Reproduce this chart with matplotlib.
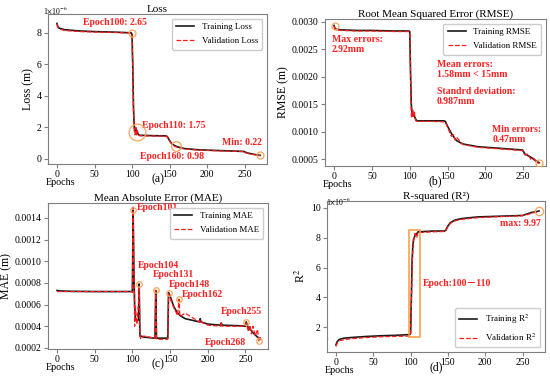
"""Training curves for the four regression metrics (Loss, RMSE, MAE, R2)."""

import matplotlib.pyplot as plt

plt.rcParams["font.family"] = ["Liberation Serif", "DejaVu Serif"]
plt.rcParams["mathtext.fontset"] = "stix"

# ---- data ----
loss_epochs = [0, 1, 3, 10, 30, 50, 80, 99, 100, 101, 102, 103, 104, 105, 106, 107, 108, 110,
               130, 145, 147, 150, 153, 156, 160, 170, 190, 220, 249, 252, 256, 262, 268, 271]
loss_train = [8.6, 8.4, 8.3, 8.2, 8.12, 8.08, 8.04, 8.0, 7.9, 6.0, 3.2, 2.0, 1.7, 1.9, 1.6, 1.75, 1.55, 1.48,
              1.45, 1.44, 1.4, 1.15, 0.95, 0.85, 0.75, 0.63, 0.55, 0.5, 0.45, 0.38, 0.33, 0.27, 0.22, 0.2]
loss_val = [8.55, 8.35, 8.25, 8.15, 8.08, 8.05, 8.02, 7.98, 7.85, 5.8, 3.0, 1.8, 1.5, 2.0, 1.5, 1.8, 1.5, 1.45,
            1.43, 1.42, 1.38, 1.12, 0.92, 0.8, 0.72, 0.6, 0.53, 0.48, 0.44, 0.36, 0.3, 0.25, 0.2, 0.18]

rmse_epochs = [0, 1, 3, 10, 30, 50, 80, 99, 100, 101, 102, 103, 104, 105, 106, 107, 108, 110,
               130, 145, 147, 150, 155, 158, 160, 162, 170, 190, 220, 249, 252, 256, 260, 264, 268, 271]
rmse_train = [0.00293, 0.00288, 0.00286, 0.00285, 0.00284, 0.00284, 0.00283, 0.00283, 0.00282, 0.0021,
              0.0015, 0.00135, 0.00130, 0.00133, 0.00128, 0.00126, 0.00122, 0.0012,
              0.0012, 0.0012, 0.00119, 0.00110, 0.00097, 0.00091, 0.00087, 0.00084, 0.00078, 0.00073,
              0.0007, 0.00067, 0.0006, 0.00057, 0.00054, 0.0005, 0.00046, 0.00044]
rmse_val = [0.00292, 0.00287, 0.00285, 0.00284, 0.00283, 0.00283, 0.00282, 0.00282, 0.0028, 0.002,
            0.0013, 0.00125, 0.0014, 0.00128, 0.00138, 0.00125, 0.0012, 0.00119,
            0.00119, 0.00118, 0.00118, 0.00108, 0.00092, 0.00095, 0.00085, 0.0009, 0.00077, 0.00072,
            0.00069, 0.00066, 0.00058, 0.0006, 0.0005, 0.00052, 0.00044, 0.00043]

mae_epochs = [0, 5, 20, 50, 80, 99, 100, 101, 102, 103, 104, 106, 108, 109, 110, 111, 115, 130, 131, 132,
              147, 148, 150, 155, 160, 162, 163, 170, 189, 190, 191, 200, 217, 218, 219, 240, 250, 251,
              254, 256, 258, 260, 263, 266, 268, 270]
mae_train = [0.00073, 0.000725, 0.000722, 0.00072, 0.00072, 0.00072, 0.00072, 0.00147, 0.0009, 0.0006,
             0.00046, 0.00045, 0.00046, 0.00079, 0.00031, 0.00031, 0.0003, 0.00029, 0.00073, 0.00029,
             0.00029, 0.00071, 0.00068, 0.00058, 0.00052, 0.00051, 0.0005, 0.00047, 0.00044, 0.00047,
             0.00044, 0.00042, 0.00041, 0.00043, 0.00041, 0.000405, 0.0004, 0.00044, 0.00038, 0.00037,
             0.00036, 0.00034, 0.00032, 0.0003, 0.00029, 0.00028]
mae_val = [0.00072, 0.00072, 0.00072, 0.00072, 0.00072, 0.00072, 0.00071, 0.0015, 0.00095, 0.0004,
           0.00058, 0.00042, 0.0006, 0.00077, 0.00032, 0.00028, 0.00031, 0.00029, 0.00073, 0.00028,
           0.00028, 0.0007, 0.00066, 0.00057, 0.0005, 0.00065, 0.00049, 0.00052, 0.00044, 0.00046,
           0.00044, 0.00041, 0.0004, 0.00044, 0.0004, 0.0004, 0.0004, 0.00043, 0.00035, 0.00041,
           0.00033, 0.0004, 0.00031, 0.00037, 0.00026, 0.0003]

r2_epochs = [0, 1, 2, 4, 6, 10, 20, 40, 60, 80, 99, 100, 101, 102, 103, 104, 106, 108, 110,
             130, 145, 147, 150, 153, 156, 160, 170, 190, 220, 250, 253, 256, 262, 268, 272]
r2_train = [0.8, 0.95, 1.05, 1.15, 1.2, 1.25, 1.3, 1.37, 1.42, 1.45, 1.5, 1.6, 4.0, 6.5, 7.5, 7.9, 8.15,
            8.25, 8.4, 8.45, 8.45, 8.5, 8.8, 9.0, 9.1, 9.2, 9.3, 9.4, 9.45, 9.5, 9.55, 9.6, 9.7, 9.75, 9.8]
r2_val = [0.7, 0.85, 0.95, 1.05, 1.1, 1.15, 1.22, 1.3, 1.35, 1.38, 1.4, 1.5, 3.5, 6.0, 7.2, 7.8, 8.3,
          8.0, 8.35, 8.4, 8.42, 8.45, 8.75, 8.95, 9.05, 9.15, 9.25, 9.35, 9.42, 9.48, 9.6, 9.55, 9.65, 9.72, 9.78]

# annotation points: (epoch, value, ring size)
loss_marks = [(100, 8.0, 5), (106, 1.7, 12), (158, 0.8, 7), (271, 0.2, 5)]
rmse_marks = [(1, 0.00293, 5), (271, 0.00044, 5)]
mae_marks = [(101, 0.00147, 4), (109, 0.00079, 4), (131, 0.00073, 4), (148, 0.00071, 4),
             (162, 0.00065, 4), (251, 0.00044, 4), (268, 0.00026, 4)]
mae_labels = ["Epoch101", "Epoch104", "Epoch131", "Epoch148", "Epoch162", "Epoch255", "Epoch268"]
mae_label_pos = [(106, 0.001494), (107, 0.000958), (127, 0.000875), (148, 0.000783),
                 (166, 0.00069), (217, 0.000533), (196, 0.000246)]
r2_marks = [(272, 9.8, 6)]

TRAIN = "#1a1a1a"
VAL = "#ff1a1a"
RING = "#f5a55a"
NOTE = "#ff2020"
FRAME = "#7f7f7f"
W, H = 550, 379


def style(ax, title, ylabel, panel, title_pad=1):
    ax.set_title(title, fontsize=8, pad=title_pad)
    ax.set_ylabel(ylabel, fontsize=8.5, labelpad=2)
    ax.set_xlabel(panel, fontsize=8.5, labelpad=-4)
    ax.set_xlim(-12, 280)
    ax.set_xticks([0, 50, 100, 150, 200, 250])
    ax.tick_params(labelsize=7, length=3, color=FRAME, pad=1.5)
    for s in ax.spines.values():
        s.set_color(FRAME)
    ax.text(-0.012, -0.095, "Epochs", transform=ax.transAxes, fontsize=7.3, ha="left", va="top")


def rings(ax, pts):
    for x, y, size in pts:
        ax.plot([x], [y], "o", ms=size, mfc="none", mec=RING, mew=0.9, zorder=5)


def note(ax, x, y, s, **kw):
    ax.text(x, y, s, color=NOTE, fontsize=7, fontweight="bold", va="center", linespacing=1.15, **kw)


def legend(ax, loc):
    ax.legend(loc=loc, fontsize=6.5, frameon=True, edgecolor="#cccccc", framealpha=1,
              borderpad=0.5, handlelength=2.0, labelspacing=0.6)


def add_axes(l, t, r, b):
    return fig.add_axes([l / W, 1 - b / H, (r - l) / W, (b - t) / H])


fig = plt.figure(figsize=(5.5, 3.79), dpi=100)

# (a) loss
ax = add_axes(48, 14, 267, 164)
ax.plot(loss_epochs, loss_train, color=TRAIN, lw=1.2, label="Training Loss")
ax.plot(loss_epochs, loss_val, color=VAL, lw=0.9, ls="--", label="Validation Loss")
rings(ax, loss_marks)
ax.set_ylim(-0.35, 9.2)
ax.set_yticks([0, 2, 4, 6, 8])
style(ax, "Loss", "Loss (m)", "(a)")
ax.text(-0.025, 1.025, r"1$\times$10$^{-6}$", transform=ax.transAxes, fontsize=5.5, va="center")
legend(ax, "upper right")
note(ax, 35, 8.63, "Epoch100: 2.65")
note(ax, 113, 2.09, "Epoch110: 1.75")
note(ax, 111, 0.12, "Epoch160: 0.98")
note(ax, 220, 1.01, "Min: 0.22")

# (b) rmse
ax = add_axes(325, 19, 546, 166)
ax.plot(rmse_epochs, rmse_train, color=TRAIN, lw=1.2, label="Training RMSE")
ax.plot(rmse_epochs, rmse_val, color=VAL, lw=0.9, ls="--", label="Validation RMSE")
rings(ax, rmse_marks)
ax.set_ylim(0.00038, 0.003048)
ax.set_yticks([0.0005, 0.0010, 0.0015, 0.0020, 0.0025, 0.0030])
ax.yaxis.set_major_formatter(plt.FormatStrFormatter("%.4f"))
style(ax, "Root Mean Squared Error (RMSE)", "RMSE (m)", "(b)")
legend(ax, "upper right")
note(ax, -3, 0.00259, "Max errors:\n2.92mm")
note(ax, 136, 0.00213, "Mean errors:\n1.58mm < 15mm")
note(ax, 136, 0.001635, "Standrd deviation:\n0.987mm")
note(ax, 209, 0.000955, "Min errors:\n0.47mm")

# (c) mae
ax = add_axes(48, 203, 268, 349)
ax.plot(mae_epochs, mae_train, color=TRAIN, lw=1.2, label="Training MAE")
ax.plot(mae_epochs, mae_val, color=VAL, lw=0.9, ls="--", label="Validation MAE")
rings(ax, mae_marks)
ax.set_ylim(0.00019, 0.001537)
ax.set_yticks([0.0002, 0.0004, 0.0006, 0.0008, 0.0010, 0.0012, 0.0014])
ax.yaxis.set_major_formatter(plt.FormatStrFormatter("%.4f"))
style(ax, "Mean Absolute Error (MAE)", "MAE (m)", "(c)")
legend(ax, "upper right")
for (x, y), s in zip(mae_label_pos, mae_labels):
    note(ax, x, y, s)

# (d) r-squared
ax = add_axes(327, 201, 545, 352)
ax.plot(r2_epochs, r2_train, color=TRAIN, lw=1.2, label="Training R$^2$")
ax.plot(r2_epochs, r2_val, color=VAL, lw=0.9, ls="--", label="Validation R$^2$")
rings(ax, r2_marks)
ax.add_patch(plt.Rectangle((97.5, 1.34), 14.5, 7.2, fill=False, ec="#f59a3c", lw=1.1, zorder=4))
ax.set_ylim(0.33, 10.47)
ax.set_yticks([2, 4, 6, 8, 10])
style(ax, "R-squared (R\u00b2)", "R$^2$", "(d)", title_pad=0.5)
ax.text(-0.005, 1.0, r"1$\times$10$^{-6}$", transform=ax.transAxes, fontsize=5.5, va="center")
legend(ax, "lower right")
ax.text(117, 4.94, "Epoch:100\uff0d110", color=NOTE, fontsize=7, fontweight="bold", va="center",
        family=["Liberation Serif", "Noto Sans CJK SC"])
note(ax, 220, 8.94, "max: 9.97")

fig.savefig("out.png", dpi=100)
